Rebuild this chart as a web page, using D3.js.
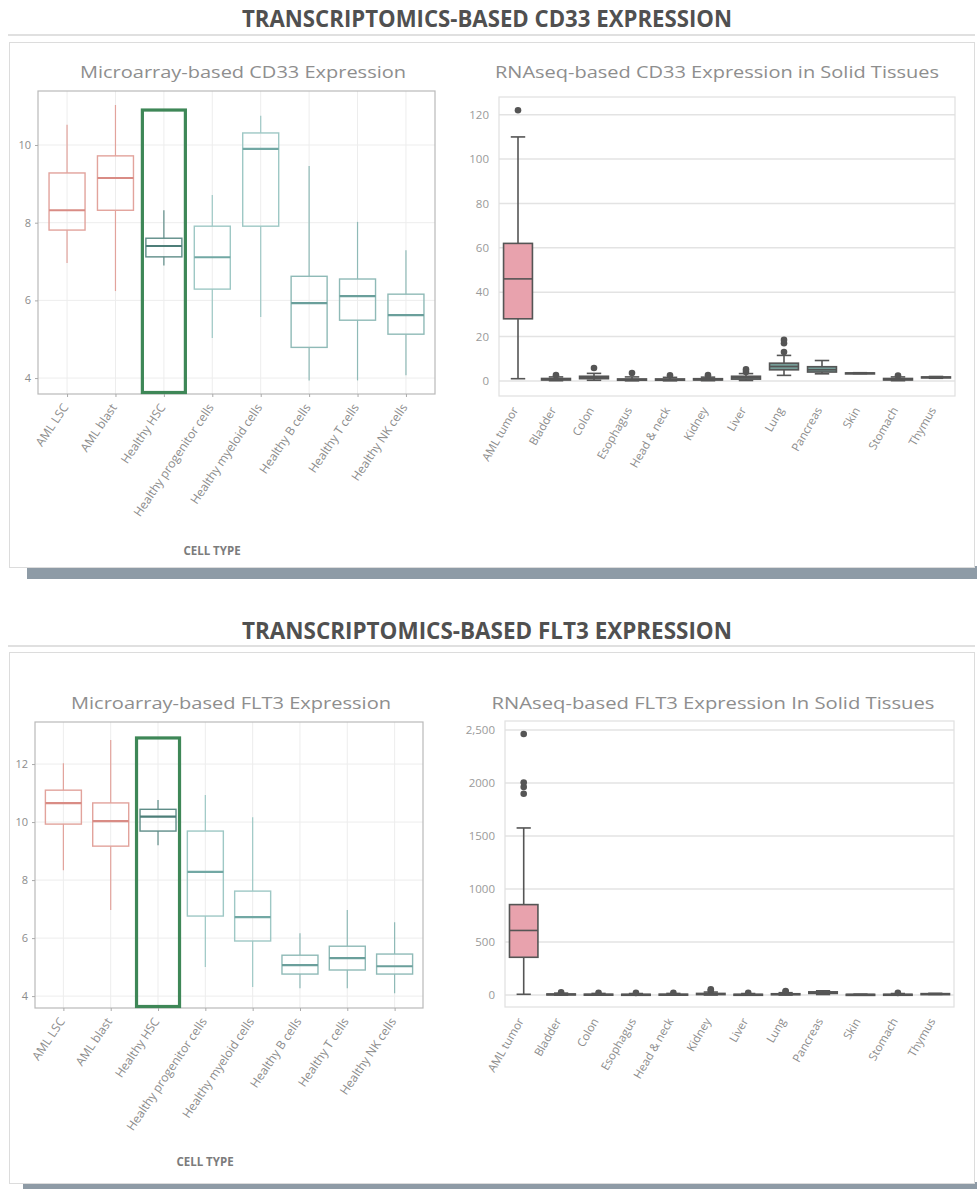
<!DOCTYPE html>
<html><head><meta charset="utf-8">
<script src="https://cdn.jsdelivr.net/npm/d3@7"></script>
<style>body{margin:0;background:#fff}svg{display:block}</style>
</head><body>
<svg id="chart" width="977" height="1189"></svg>
<script>
// ---------- DATA ----------
const cellTypes = ["AML LSC","AML blast","Healthy HSC","Healthy progenitor cells","Healthy myeloid cells","Healthy B cells","Healthy T cells","Healthy NK cells"];
// [whisker low, Q1, median, Q3, whisker high]
const cd33Micro = [
  [6.96, 7.81, 8.32, 9.28, 10.52],
  [6.24, 8.32, 9.15, 9.72, 11.03],
  [6.90, 7.12, 7.40, 7.60, 8.32],
  [5.03, 6.29, 7.11, 7.91, 8.71],
  [5.57, 7.91, 9.90, 10.31, 10.75],
  [3.94, 4.79, 5.93, 6.62, 9.46],
  [3.94, 5.49, 6.11, 6.55, 8.02],
  [4.07, 5.13, 5.62, 6.16, 7.29]
];
const flt3Micro = [
  [8.34, 9.93, 10.65, 11.10, 12.03],
  [6.97, 9.17, 10.03, 10.66, 12.83],
  [9.20, 9.69, 10.19, 10.44, 10.76],
  [5.00, 6.76, 8.28, 9.69, 10.93],
  [4.31, 5.90, 6.72, 7.62, 10.17],
  [4.27, 4.76, 5.07, 5.41, 6.17],
  [4.27, 4.90, 5.31, 5.72, 6.97],
  [4.10, 4.76, 5.03, 5.45, 6.55]
];
const cd33MicroTicks = [4, 6, 8, 10];
const flt3MicroTicks = [4, 6, 8, 10, 12];
const cd33HighlightTop = 10.9;
const flt3HighlightTop = 12.9;

const tissues = ["AML tumor","Bladder","Colon","Esophagus","Head & neck","Kidney","Liver","Lung","Pancreas","Skin","Stomach","Thymus"];
const cd33Rna = [
  [1, 28, 46, 62, 110],
  [0.1, 0.4, 0.7, 1.1, 1.8],
  [0.3, 1.0, 1.5, 2.1, 3.4],
  [0.05, 0.3, 0.5, 0.9, 1.8],
  [0.05, 0.3, 0.5, 0.9, 1.6],
  [0.1, 0.4, 0.6, 1.0, 1.7],
  [0.2, 0.8, 1.4, 2.1, 3.3],
  [2.5, 5.0, 6.5, 8.0, 11.5],
  [3.2, 4.0, 5.0, 6.4, 9.2],
  [3.3, 3.4, 3.5, 3.6, 3.7],
  [0.1, 0.4, 0.7, 1.1, 1.8],
  [1.2, 1.4, 1.6, 1.8, 2.0]
];
const cd33RnaOutliers = [[122],[2.6],[5.8],[3.6],[2.5],[2.6],[4.0,5.2],[13,17,18.5],[],[],[2.4],[]];
const flt3Rna = [
  [7, 356, 609, 853, 1576],
  [0, 3, 6, 10, 18],
  [0, 2, 4, 8, 15],
  [0, 2, 4, 7, 14],
  [0, 2, 4, 8, 15],
  [0, 4, 8, 15, 28],
  [0, 2, 4, 7, 14],
  [0, 4, 7, 12, 22],
  [5, 15, 22, 30, 40],
  [2, 4, 5, 6, 8],
  [0, 2, 4, 7, 14],
  [6, 9, 11, 13, 16]
];
const flt3RnaOutliers = [[1899,1962,2004,2463],[25],[22],[20],[22],[40,55],[22],[30,38],[],[],[20],[]];
const cd33RnaTicks = [0, 20, 40, 60, 80, 100, 120];
const cd33RnaTickLabels = ["0","20","40","60","80","100","120"];
const flt3RnaTicks = [0, 500, 1000, 1500, 2000, 2500];
const flt3RnaTickLabels = ["0","500","1000","1500","2000","2,500"];

const sectionTitles = ["TRANSCRIPTOMICS-BASED CD33 EXPRESSION","TRANSCRIPTOMICS-BASED FLT3 EXPRESSION"];
const microTitles = ["Microarray-based CD33 Expression","Microarray-based FLT3 Expression"];
const rnaTitles = ["RNAseq-based CD33 Expression in Solid Tissues","RNAseq-based FLT3 Expression In Solid Tissues"];
const xAxisTitle = "CELL TYPE";

// ---------- STYLE ----------
const microStroke = ["#e2a39c","#e2a39c","#5f8d88","#9ec8c5","#9ec8c5","#8fbab7","#8fbab7","#8fbab7"];
const microMedian = ["#d98c85","#d98c85","#4d7e78","#72a8a4","#72a8a4","#6a9f9b","#6a9f9b","#6a9f9b"];
const rnaFill = ["#e8a2ad","#7f9c98","#7f9c98","#7f9c98","#7f9c98","#7f9c98","#7f9c98","#769d98","#769d98","#8aa9a5","#7f9c98","#8aa9a5"];
const font = "'Open Sans', sans-serif";

const svg = d3.select("#chart");

function section(cfg) {
  const g = svg.append("g");
  g.append("rect").attr("x", cfg.shadowX).attr("y", cfg.panelY2 - 1).attr("width", 977 - cfg.shadowX).attr("height", cfg.shadowH).attr("fill", "#8e9ba6");
  g.append("rect").attr("x", 9.5).attr("y", cfg.panelY1 + 0.5).attr("width", 965).attr("height", cfg.panelY2 - cfg.panelY1).attr("fill", "#fff").attr("stroke", "#dcdcdc");
  g.append("line").attr("x1", 8).attr("x2", 975).attr("y1", cfg.lineY).attr("y2", cfg.lineY).attr("stroke", "#d6d6d6").attr("stroke-width", 1.5);
  g.append("text").attr("x", 487).attr("y", cfg.titleY).attr("text-anchor", "middle")
    .attr("font-family", font).attr("font-weight", 700).attr("font-size", 23).attr("fill", "#505050")
    .attr("textLength", 490).attr("lengthAdjust", "spacingAndGlyphs").text(cfg.title);
}

function micro(cfg) {
  const g = svg.append("g");
  const {x0, x1, y0, y1} = cfg;
  const x = d3.scalePoint().domain(cellTypes).range([x0, x1]).padding(0.6);
  const y = d3.scaleLinear().domain(cfg.domain).range([y1, y0]);
  g.append("text").attr("x", cfg.titleX).attr("y", cfg.titleY).attr("text-anchor", "middle")
    .attr("font-family", font).attr("font-size", 17).attr("fill", "#8e8e8e")
    .attr("textLength", cfg.titleLen).attr("lengthAdjust", "spacingAndGlyphs").text(cfg.title);
  g.selectAll(".gy").data(cfg.ticks).join("line").attr("x1", x0).attr("x2", x1)
    .attr("y1", d => y(d)).attr("y2", d => y(d)).attr("stroke", "#ededed");
  g.selectAll(".gx").data(cellTypes).join("line").attr("x1", d => x(d)).attr("x2", d => x(d))
    .attr("y1", y0).attr("y2", y1).attr("stroke", "#ededed");
  g.append("rect").attr("x", x0).attr("y", y0).attr("width", x1 - x0).attr("height", y1 - y0)
    .attr("fill", "none").attr("stroke", "#b9b9b9").attr("stroke-width", 1.2);
  const ya = d3.axisLeft(y).tickValues(cfg.ticks).tickSize(3).tickPadding(4);
  const yg = g.append("g").attr("transform", `translate(${x0},0)`).call(ya);
  yg.select(".domain").remove();
  yg.selectAll("line").attr("stroke", "#aaa");
  yg.selectAll("text").attr("font-family", font).attr("font-size", 11).attr("fill", "#8c8c8c");
  const xa = d3.axisBottom(x).tickSize(3).tickPadding(0);
  const xg = g.append("g").attr("transform", `translate(0,${y1})`).call(xa);
  xg.select(".domain").remove();
  xg.selectAll("line").attr("stroke", "#aaa");
  xg.selectAll("text").attr("font-family", font).attr("font-size", 12).attr("fill", "#8c8c8c")
    .attr("text-anchor", "end").attr("dy", "0.35em")
    .attr("transform", "translate(-2,11) rotate(-56)").attr("x", 0).attr("y", 0);
  const bw = 36;
  const data = cfg.data.map((d, i) => ({k: cellTypes[i], v: d, i}));
  const bx = g.selectAll(".box").data(data).join("g");
  bx.append("line").attr("x1", d => x(d.k)).attr("x2", d => x(d.k))
    .attr("y1", d => y(d.v[0])).attr("y2", d => y(d.v[1])).attr("stroke", d => microStroke[d.i]).attr("stroke-width", 1.2);
  bx.append("line").attr("x1", d => x(d.k)).attr("x2", d => x(d.k))
    .attr("y1", d => y(d.v[3])).attr("y2", d => y(d.v[4])).attr("stroke", d => microStroke[d.i]).attr("stroke-width", 1.2);
  bx.append("rect").attr("x", d => x(d.k) - bw / 2).attr("width", bw)
    .attr("y", d => y(d.v[3])).attr("height", d => y(d.v[1]) - y(d.v[3]))
    .attr("fill", "none").attr("stroke", d => microStroke[d.i]).attr("stroke-width", 1.4);
  bx.append("line").attr("x1", d => x(d.k) - bw / 2).attr("x2", d => x(d.k) + bw / 2)
    .attr("y1", d => y(d.v[2])).attr("y2", d => y(d.v[2])).attr("stroke", d => microMedian[d.i]).attr("stroke-width", 2.2);
  const hx = x(cellTypes[2]);
  g.append("rect").attr("x", hx - 21.5).attr("width", 43)
    .attr("y", y(cfg.hlTop)).attr("height", y1 - 1.5 - y(cfg.hlTop))
    .attr("fill", "none").attr("stroke", "#3e8757").attr("stroke-width", 3.2);
  g.append("text").attr("x", cfg.axisTitleX).attr("y", cfg.axisTitleY).attr("text-anchor", "middle")
    .attr("font-family", font).attr("font-weight", 700).attr("font-size", 11.5).attr("fill", "#7c7c7c").text(xAxisTitle);
}

function rna(cfg) {
  const g = svg.append("g");
  const {x0, x1, y0, y1} = cfg;
  const x = d3.scaleBand().domain(tissues).range([x0, x1]).paddingInner(0.24).paddingOuter(0.12);
  const y = d3.scaleLinear().domain(cfg.domain).range([y1, y0]);
  g.append("text").attr("x", cfg.titleX).attr("y", cfg.titleY).attr("text-anchor", "middle")
    .attr("font-family", font).attr("font-size", 17).attr("fill", "#8e8e8e")
    .attr("textLength", cfg.titleLen).attr("lengthAdjust", "spacingAndGlyphs").text(cfg.title);
  g.selectAll(".gy").data(cfg.ticks).join("line").attr("x1", x0).attr("x2", x1)
    .attr("y1", d => y(d)).attr("y2", d => y(d)).attr("stroke", "#e3e3e3").attr("stroke-width", 1.5);
  g.append("rect").attr("x", x0).attr("y", y0).attr("width", x1 - x0).attr("height", y1 - y0)
    .attr("fill", "none").attr("stroke", "#e0e0e0").attr("stroke-width", 1.2);
  const ya = d3.axisLeft(y).tickValues(cfg.ticks).tickFormat((d, i) => cfg.tickLabels[i]).tickSize(0).tickPadding(10);
  const yg = g.append("g").attr("transform", `translate(${x0},0)`).call(ya);
  yg.select(".domain").remove();
  yg.selectAll("text").attr("font-family", font).attr("font-size", 11.5).attr("fill", "#9a9a9a");
  const xa = d3.axisBottom(x).tickSize(0).tickPadding(0);
  const xg = g.append("g").attr("transform", `translate(0,${y1})`).call(xa);
  xg.select(".domain").remove();
  xg.selectAll("text").attr("font-family", font).attr("font-size", 11.5).attr("fill", "#8c8c8c")
    .attr("text-anchor", "end").attr("dy", "0.35em")
    .attr("transform", "translate(-3,12) rotate(-60)").attr("x", 0).attr("y", 0);
  const bw = x.bandwidth();
  const data = cfg.data.map((d, i) => ({k: tissues[i], v: d, o: cfg.outliers[i], i}));
  const cx = d => x(d.k) + bw / 2;
  const bx = g.selectAll(".box").data(data).join("g");
  const sc = "#555";
  bx.append("line").attr("x1", cx).attr("x2", cx).attr("y1", d => y(d.v[0])).attr("y2", d => y(d.v[4]))
    .attr("stroke", sc).attr("stroke-width", 1.6);
  bx.append("line").attr("x1", d => cx(d) - bw * 0.25).attr("x2", d => cx(d) + bw * 0.25)
    .attr("y1", d => y(d.v[0])).attr("y2", d => y(d.v[0])).attr("stroke", sc).attr("stroke-width", 1.6);
  bx.append("line").attr("x1", d => cx(d) - bw * 0.25).attr("x2", d => cx(d) + bw * 0.25)
    .attr("y1", d => y(d.v[4])).attr("y2", d => y(d.v[4])).attr("stroke", sc).attr("stroke-width", 1.6);
  bx.append("rect").attr("x", d => x(d.k)).attr("width", bw)
    .attr("y", d => y(d.v[3])).attr("height", d => Math.max(1, y(d.v[1]) - y(d.v[3])))
    .attr("fill", d => rnaFill[d.i]).attr("stroke", sc).attr("stroke-width", 1.6);
  bx.append("line").attr("x1", d => x(d.k)).attr("x2", d => x(d.k) + bw)
    .attr("y1", d => y(d.v[2])).attr("y2", d => y(d.v[2])).attr("stroke", sc).attr("stroke-width", 1.6);
  bx.selectAll("circle").data(d => d.o.map(v => ({v, c: cx(d)}))).join("circle")
    .attr("cx", d => d.c).attr("cy", d => y(d.v)).attr("r", 3.3).attr("fill", "#555");
}

// ---------- CD33 ----------
section({title: sectionTitles[0], titleY: 27, lineY: 35, panelY1: 42, panelY2: 567, shadowX: 27, shadowH: 13});
micro({title: microTitles[0], titleX: 243, titleY: 78, titleLen: 326, x0: 38, x1: 435, y0: 91, y1: 394,
  domain: [3.59, 11.39], ticks: cd33MicroTicks, data: cd33Micro, hlTop: cd33HighlightTop, axisTitleX: 212, axisTitleY: 555});
rna({title: rnaTitles[0], titleX: 717, titleY: 78, titleLen: 444, x0: 499, x1: 955, y0: 97, y1: 396,
  domain: [-6.8, 128], ticks: cd33RnaTicks, tickLabels: cd33RnaTickLabels, data: cd33Rna, outliers: cd33RnaOutliers});

// ---------- FLT3 ----------
section({title: sectionTitles[1], titleY: 639, lineY: 646, panelY1: 652, panelY2: 1183, shadowX: 23, shadowH: 8});
micro({title: microTitles[1], titleX: 231, titleY: 709, titleLen: 320, x0: 35, x1: 423, y0: 722, y1: 1008,
  domain: [3.59, 13.45], ticks: flt3MicroTicks, data: flt3Micro, hlTop: flt3HighlightTop, axisTitleX: 205, axisTitleY: 1166});
rna({title: rnaTitles[1], titleX: 713, titleY: 709, titleLen: 443, x0: 505, x1: 954, y0: 721, y1: 1007,
  domain: [-113, 2585], ticks: flt3RnaTicks, tickLabels: flt3RnaTickLabels, data: flt3Rna, outliers: flt3RnaOutliers});
</script>
</body></html>
